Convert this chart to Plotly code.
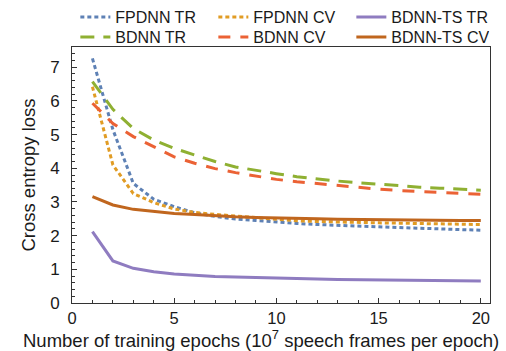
import plotly.graph_objects as go

epochs = list(range(1, 21))
fpdnn_tr = [7.26, 5.15, 3.55, 3.08, 2.86, 2.68, 2.57, 2.49, 2.45, 2.40, 2.36, 2.33, 2.30, 2.28, 2.26, 2.24, 2.22, 2.20, 2.18, 2.16]
fpdnn_cv = [6.42, 4.10, 3.25, 2.98, 2.79, 2.69, 2.63, 2.58, 2.52, 2.47, 2.44, 2.42, 2.40, 2.39, 2.38, 2.37, 2.36, 2.35, 2.34, 2.33]
bdnn_ts_tr = [2.12, 1.25, 1.03, 0.93, 0.86, 0.82, 0.79, 0.77, 0.75, 0.73, 0.72, 0.71, 0.70, 0.69, 0.68, 0.67, 0.67, 0.66, 0.66, 0.65]
bdnn_tr = [6.57, 5.75, 5.18, 4.84, 4.59, 4.40, 4.20, 4.04, 3.93, 3.84, 3.75, 3.68, 3.62, 3.57, 3.52, 3.47, 3.44, 3.41, 3.38, 3.35]
bdnn_cv = [5.93, 5.33, 4.94, 4.64, 4.34, 4.15, 3.99, 3.87, 3.77, 3.67, 3.60, 3.54, 3.48, 3.43, 3.38, 3.34, 3.31, 3.28, 3.25, 3.23]
bdnn_ts_cv = [3.16, 2.91, 2.78, 2.71, 2.66, 2.63, 2.59, 2.56, 2.54, 2.52, 2.51, 2.50, 2.49, 2.48, 2.47, 2.47, 2.46, 2.46, 2.45, 2.45]

x_ticks = [0, 5, 10, 15, 20]
y_ticks = [0, 1, 2, 3, 4, 5, 6, 7]
x_title = "Number of training epochs (10<sup>7</sup> speech frames per epoch)"
y_title = "Cross entropy loss"

series = [
    ("FPDNN TR", fpdnn_tr, "#5E81B5", "4px,3px", "legend"),
    ("FPDNN CV", fpdnn_cv, "#E19C24", "4px,3px", "legend"),
    ("BDNN-TS TR", bdnn_ts_tr, "#8F7CC0", "solid", "legend"),
    ("BDNN TR", bdnn_tr, "#8FB032", "14px,9px", "legend2"),
    ("BDNN CV", bdnn_cv, "#EB6235", "12px,10px", "legend2"),
    ("BDNN-TS CV", bdnn_ts_cv, "#C0661E", "solid", "legend2"),
]

fig = go.Figure()
for name, ys, color, dash, lg in series:
    fig.add_trace(go.Scatter(x=epochs, y=ys, name=name, mode="lines", legend=lg,
                             line=dict(color=color, width=3, dash=dash)))

font = "Liberation Sans, Arial, sans-serif"
axcol = "#333333"
txtcol = "#1a1a1a"
leg_common = dict(orientation="h", x=0.008, xanchor="left", yanchor="middle",
                  entrywidth=93, entrywidthmode="pixels",
                  font=dict(size=16, color=txtcol, family=font),
                  bgcolor="rgba(0,0,0,0)", borderwidth=0)
fig.update_layout(
    width=506, height=351,
    margin=dict(l=72, r=16, t=47, b=48, autoexpand=False),
    paper_bgcolor="white", plot_bgcolor="white",
    font=dict(family=font, size=17, color=txtcol),
    legend=dict(y=1.117, **leg_common),
    legend2=dict(y=1.039, **leg_common),
    showlegend=True,
)
fig.update_xaxes(
    range=[0, 20.45], tickvals=x_ticks, ticks="inside", ticklen=5,
    tickcolor=axcol, showline=True, linecolor=axcol, linewidth=1, mirror=True,
    showgrid=False, zeroline=False, ticklabelstandoff=0,
    minor=dict(dtick=1, tick0=0, ticks="inside", ticklen=3, tickcolor=axcol, showgrid=False),
    tickfont=dict(size=16.5),
)
fig.update_yaxes(
    range=[0, 7.6], tickvals=y_ticks, ticks="inside", ticklen=5,
    tickcolor=axcol, showline=True, linecolor=axcol, linewidth=1, mirror=True,
    showgrid=False, zeroline=False, ticklabelstandoff=8,
    minor=dict(dtick=0.2, tick0=0, ticks="inside", ticklen=3, tickcolor=axcol, showgrid=False),
    title=dict(text=y_title, font=dict(size=18.5), standoff=9),
    tickfont=dict(size=17),
)
# x-axis title as annotation (centered on the figure like the reference)
fig.add_annotation(text=x_title, xref="paper", yref="paper", x=0.452, y=-0.141,
                   xanchor="center", yanchor="middle", showarrow=False,
                   font=dict(size=18.5, color=txtcol))
# small axis-crossing extensions at the origin
fig.add_shape(type="line", xref="x", yref="y", xsizemode="pixel", xanchor=0,
              x0=-8, x1=0, y0=0, y1=0, line=dict(color=axcol, width=1))
fig.add_shape(type="line", xref="x", yref="y", ysizemode="pixel", yanchor=0,
              x0=0, x1=0, y0=-5, y1=0, line=dict(color=axcol, width=1))
fig.write_html("out.html")
